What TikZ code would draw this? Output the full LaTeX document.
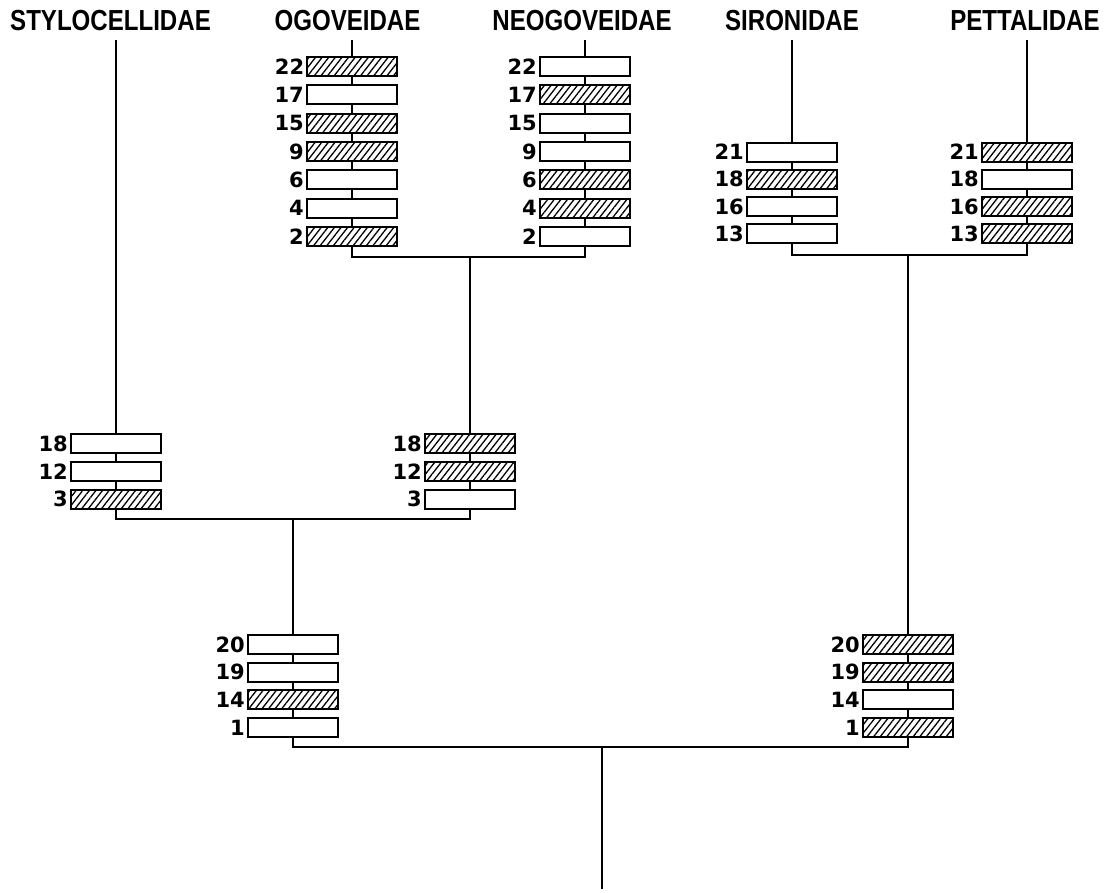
\documentclass[tikz,border=0pt]{standalone}
\usepackage{fontspec}
\usetikzlibrary{patterns.meta}
\newfontfamily\titlefont{Liberation Sans}[FakeStretch=0.83]
\newfontfamily\numfont{DejaVu Sans}
\tikzset{
  link/.style={line width=1.8pt},
  cb/.style={draw, line width=2pt, minimum width=90pt, minimum height=19pt, inner sep=0pt},
  hb/.style={cb, pattern={Lines[angle=52,distance=5.2pt,line width=1.3pt]}},
  num/.style={font=\numfont\bfseries\fontsize{21}{21}\selectfont, inner sep=0pt},
  ttl/.style={font=\titlefont\bfseries\fontsize{29}{29}\selectfont, inner sep=0pt},
}
\begin{document}
\begin{tikzpicture}[x=1pt,y=-1pt]
\useasboundingbox (0,0) rectangle (1114,892);
% titles
\node[ttl] (tS) at (110.5,21) {STYLOCELLIDAE};
\node[ttl] (tO) at (347.5,21) {OGOVEIDAE};
\node[ttl] (tN) at (582,21) {NEOGOVEIDAE};
\node[ttl] (tSi) at (792,21) {SIRONIDAE};
\node[ttl] (tP) at (1025,21) {PETTALIDAE};
\coordinate (lS) at (116,40);
\coordinate (lO) at (352,40);
\coordinate (lN) at (585,40);
\coordinate (lSi) at (792,40);
\coordinate (lP) at (1027,40);
% stacks
\foreach \n/\t [count=\i] in {22/hb,17/cb,15/hb,9/hb,6/cb,4/cb,2/hb}
  \node[\t, label={[num,label distance=2pt]left:\n}] (og\i) at (352,66.5+28.3*\i-28.3) {};
\foreach \n/\t [count=\i] in {22/cb,17/hb,15/cb,9/cb,6/hb,4/hb,2/cb}
  \node[\t, label={[num,label distance=2pt]left:\n}] (ne\i) at (585,66.5+28.3*\i-28.3) {};
\foreach \n/\t [count=\i] in {21/cb,18/hb,16/cb,13/cb}
  \node[\t, label={[num,label distance=2pt]left:\n}] (si\i) at (792,152+27.3*\i-27.3) {};
\foreach \n/\t [count=\i] in {21/hb,18/cb,16/hb,13/hb}
  \node[\t, label={[num,label distance=2pt]left:\n}] (pe\i) at (1027,152+27.3*\i-27.3) {};
\foreach \n/\t [count=\i] in {18/cb,12/cb,3/hb}
  \node[\t, label={[num,label distance=2pt]left:\n}] (st\i) at (116,443.5+27.75*\i-27.75) {};
\foreach \n/\t [count=\i] in {18/hb,12/hb,3/cb}
  \node[\t, label={[num,label distance=2pt]left:\n}] (mo\i) at (470,443.5+27.75*\i-27.75) {};
\foreach \n/\t [count=\i] in {20/cb,19/cb,14/hb,1/cb}
  \node[\t, label={[num,label distance=2pt]left:\n}] (lo\i) at (293,644.5+27.7*\i-27.7) {};
\foreach \n/\t [count=\i] in {20/hb,19/hb,14/cb,1/hb}
  \node[\t, label={[num,label distance=2pt]left:\n}] (ro\i) at (908,644.5+27.7*\i-27.7) {};
% links inside stacks
\foreach \s/\m in {og/6,ne/6,si/3,pe/3,st/2,mo/2,lo/3,ro/3}
  \foreach \i in {1,...,\m} {
    \pgfmathtruncatemacro\j{\i+1}
    \draw[link] (\s\i.south) -- (\s\j.north);
  }
% top lines
\draw[link] (lS) -- (st1.north);
\draw[link] (lO) -- (og1.north);
\draw[link] (lN) -- (ne1.north);
\draw[link] (lSi) -- (si1.north);
\draw[link] (lP) -- (pe1.north);
% junctions
\coordinate (jON) at (470,257);
\coordinate (jSP) at (908,255);
\coordinate (jM) at (293,519);
\coordinate (jR) at (602,747);
\coordinate (root) at (602,889);
\draw[link] (og7.south) |- (jON) -| (ne7.south);
\draw[link] (jON) -- (mo1.north);
\draw[link] (si4.south) |- (jSP) -| (pe4.south);
\draw[link] (jSP) -- (ro1.north);
\draw[link] (st3.south) |- (jM) -| (mo3.south);
\draw[link] (jM) -- (lo1.north);
\draw[link] (lo4.south) |- (jR) -| (ro4.south);
\draw[link] (jR) -- (root);
\end{tikzpicture}
\end{document}
